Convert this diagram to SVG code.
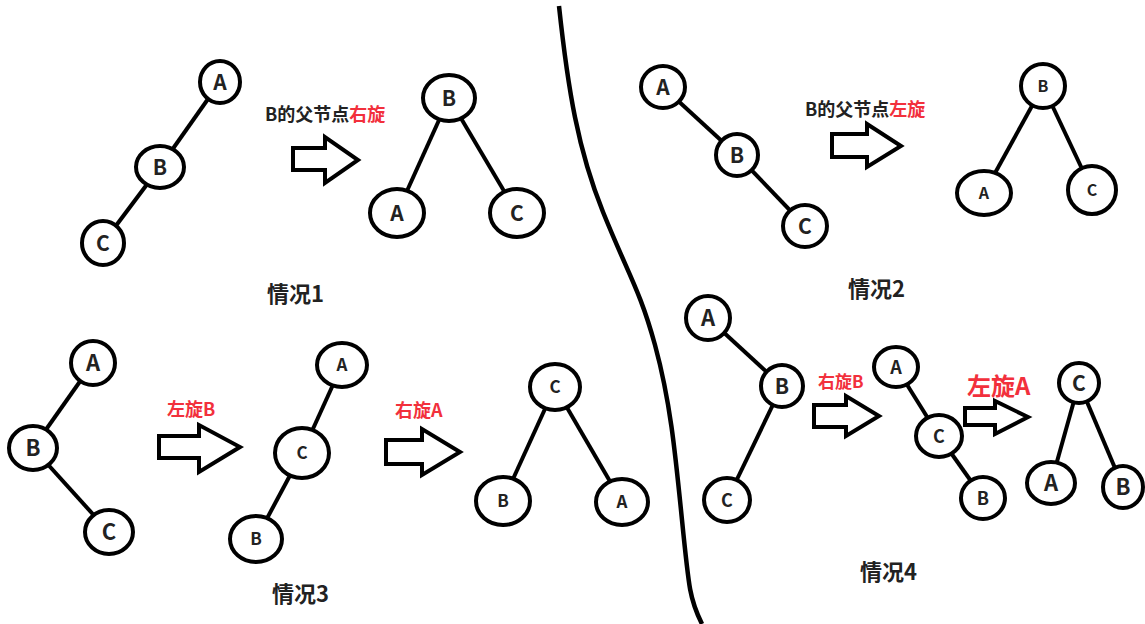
<svg xmlns="http://www.w3.org/2000/svg" width="1145" height="624" viewBox="0 0 1145 624">
<style>
.n ellipse{fill:#fff;stroke:#000;stroke-width:4}
text{font-family:"Noto Sans CJK SC","Noto Sans",sans-serif;font-weight:bold;fill:#222}
.n text{text-anchor:middle}
.r{fill:#f2303c}
.c line{stroke:#000;stroke-width:4}
.ar{fill:#fff;stroke:#000;stroke-width:4;stroke-linejoin:miter}
</style>
<rect width="1145" height="624" fill="#fff"/>
<path d="M559,6 C568,90 578,150 603,212 S640,290 655,345 S675,450 682,520 S690,600 702,624" fill="none" stroke="#000" stroke-width="4.5"/>
<g id="connectors" class="c">
<line x1="220" y1="82" x2="160" y2="167"/><line x1="160" y1="167" x2="103" y2="243"/>
<line x1="449" y1="98" x2="397" y2="213"/><line x1="449" y1="98" x2="517" y2="213"/>
<line x1="663" y1="87" x2="737" y2="155"/><line x1="737" y1="155" x2="805" y2="226"/>
<line x1="1043" y1="86" x2="984" y2="193"/><line x1="1043" y1="86" x2="1092" y2="190"/>
<line x1="93" y1="363" x2="33" y2="448"/><line x1="33" y1="448" x2="109" y2="532"/>
<line x1="342" y1="365" x2="302" y2="453"/><line x1="302" y1="453" x2="256" y2="539"/>
<line x1="555" y1="387" x2="503" y2="501"/><line x1="555" y1="387" x2="622" y2="502"/>
<line x1="708" y1="318" x2="782" y2="386"/><line x1="782" y1="386" x2="727" y2="500"/>
<line x1="896" y1="367" x2="939" y2="436"/><line x1="939" y1="436" x2="983" y2="498"/>
<line x1="1079" y1="383" x2="1051" y2="483"/><line x1="1079" y1="383" x2="1123" y2="487"/>
</g>
<g id="arrows">
<path class="ar" d="M293,148 H325 V137 L358,160 L325,183 V170 H293 Z"/>
<path class="ar" d="M832,134 H867 V124 L901,146 L867,167 V157 H832 Z"/>
<path class="ar" d="M159,436 H199 V425 L240,447 L199,472 V458 H159 Z"/>
<path class="ar" d="M386,440 H422 V429 L460,452 L422,475 V464 H386 Z"/>
<path class="ar" d="M814,405 H846 V396 L879,416 L846,436 V427 H814 Z"/>
<path class="ar" d="M965,408 H995 V401 L1028,417 L995,434 V425 H965 Z"/>
</g>
<g id="case1">
<g id="c1A" class="n"><ellipse cx="220" cy="82" rx="20" ry="21"/><text x="220" y="89.5" font-size="21">A</text></g>
<g id="c1B" class="n"><ellipse cx="160" cy="167" rx="24" ry="21"/><text x="160" y="174.5" font-size="21">B</text></g>
<g id="c1C" class="n"><ellipse cx="103" cy="243" rx="21" ry="22"/><text x="103" y="250.5" font-size="21">C</text></g>
<g id="r1B" class="n"><ellipse cx="449" cy="98" rx="26" ry="23"/><text x="449" y="105.5" font-size="21">B</text></g>
<g id="r1A" class="n"><ellipse cx="397" cy="213" rx="27" ry="24"/><text x="397" y="220.5" font-size="21">A</text></g>
<g id="r1C" class="n"><ellipse cx="517" cy="213" rx="27" ry="24"/><text x="517" y="220.5" font-size="21">C</text></g>
<text x="265" y="121" font-size="18">B的父节点<tspan class="r">右旋</tspan></text>
<text x="267" y="302" font-size="22">情况1</text>
</g>
<g id="case2">
<g id="c2A" class="n"><ellipse cx="663" cy="87" rx="22" ry="21"/><text x="663" y="94.5" font-size="21">A</text></g>
<g id="c2B" class="n"><ellipse cx="737" cy="155" rx="21" ry="21"/><text x="737" y="162.5" font-size="21">B</text></g>
<g id="c2C" class="n"><ellipse cx="805" cy="226" rx="22" ry="21"/><text x="805" y="233.5" font-size="21">C</text></g>
<g id="r2B" class="n"><ellipse cx="1043" cy="86" rx="22" ry="22"/><text x="1043" y="91.8" font-size="16">B</text></g>
<g id="r2A" class="n"><ellipse cx="984" cy="193" rx="27" ry="22"/><text x="984" y="198.8" font-size="16">A</text></g>
<g id="r2C" class="n"><ellipse cx="1092" cy="190" rx="24" ry="24"/><text x="1092" y="195.8" font-size="16">C</text></g>
<text x="805" y="116" font-size="18">B的父节点<tspan class="r">左旋</tspan></text>
<text x="848" y="297" font-size="22">情况2</text>
</g>
<g id="case3">
<g id="c3A" class="n"><ellipse cx="93" cy="363" rx="22" ry="22"/><text x="93" y="371" font-size="22">A</text></g>
<g id="c3B" class="n"><ellipse cx="33" cy="448" rx="24" ry="22"/><text x="33" y="456" font-size="22">B</text></g>
<g id="c3C" class="n"><ellipse cx="109" cy="532" rx="24" ry="22"/><text x="109" y="540" font-size="22">C</text></g>
<g id="m3A" class="n"><ellipse cx="342" cy="365" rx="25" ry="22"/><text x="342" y="371" font-size="17">A</text></g>
<g id="m3C" class="n"><ellipse cx="302" cy="453" rx="27" ry="25"/><text x="302" y="459" font-size="17">C</text></g>
<g id="m3B" class="n"><ellipse cx="256" cy="539" rx="26" ry="23"/><text x="256" y="545" font-size="17">B</text></g>
<g id="r3C" class="n"><ellipse cx="555" cy="387" rx="25" ry="23"/><text x="555" y="393" font-size="17">C</text></g>
<g id="r3B" class="n"><ellipse cx="503" cy="501" rx="27" ry="24"/><text x="503" y="507" font-size="17">B</text></g>
<g id="r3A" class="n"><ellipse cx="622" cy="502" rx="26" ry="23"/><text x="622" y="508" font-size="17">A</text></g>
<text class="r" x="167" y="416" font-size="18">左旋B</text>
<text class="r" x="395" y="417" font-size="18">右旋A</text>
<text x="272" y="602" font-size="22">情况3</text>
</g>
<g id="case4">
<g id="c4A" class="n"><ellipse cx="708" cy="318" rx="22" ry="22"/><text x="708" y="326" font-size="22">A</text></g>
<g id="c4B" class="n"><ellipse cx="782" cy="386" rx="21" ry="21"/><text x="782" y="393.5" font-size="21">B</text></g>
<g id="c4C" class="n"><ellipse cx="727" cy="500" rx="23" ry="22"/><text x="727" y="506.5" font-size="18">C</text></g>
<g id="m4A" class="n"><ellipse cx="896" cy="367" rx="22" ry="20"/><text x="896" y="373.5" font-size="18">A</text></g>
<g id="m4C" class="n"><ellipse cx="939" cy="436" rx="23" ry="21"/><text x="939" y="442.5" font-size="18">C</text></g>
<g id="m4B" class="n"><ellipse cx="983" cy="498" rx="22" ry="21"/><text x="983" y="504.5" font-size="18">B</text></g>
<g id="r4C" class="n"><ellipse cx="1079" cy="383" rx="20" ry="20"/><text x="1079" y="390.5" font-size="21">C</text></g>
<g id="r4A" class="n"><ellipse cx="1051" cy="483" rx="24" ry="21"/><text x="1051" y="491" font-size="22">A</text></g>
<g id="r4B" class="n"><ellipse cx="1123" cy="487" rx="20" ry="21"/><text x="1123" y="495" font-size="22">B</text></g>
<text class="r" x="818" y="388" font-size="17">右旋B</text>
<text class="r" x="967" y="395" font-size="24">左旋A</text>
<text x="860" y="580" font-size="22">情况4</text>
</g>
</svg>
